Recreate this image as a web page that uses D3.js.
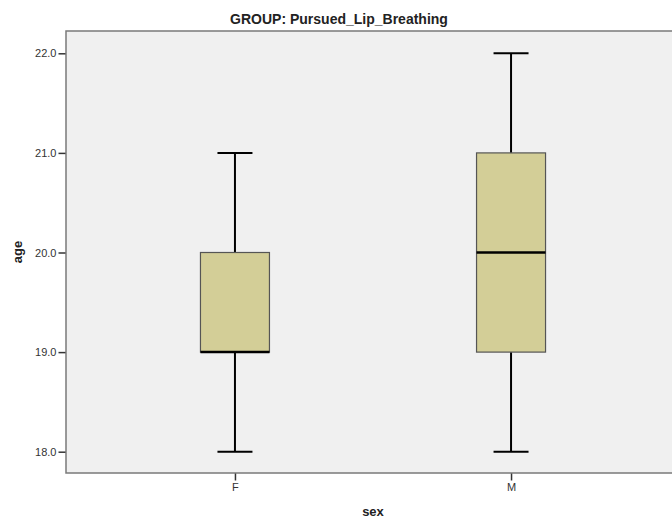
<!DOCTYPE html>
<html>
<head>
<meta charset="utf-8">
<script src="https://cdn.jsdelivr.net/npm/d3@7"></script>
<style>
  body { margin: 0; background: #fff; }
  svg { display: block; font-family: Arial, "Liberation Sans", sans-serif; }
</style>
</head>
<body>
<svg id="chart" width="672" height="522"></svg>
<script>
const categories = ["F", "M"];
const mins = [18, 18];
const q1s = [19, 19];
const medians = [19, 20];
const q3s = [20, 21];
const maxs = [21, 22];
const yTicks = [18, 19, 20, 21, 22];

const width = 672, height = 522;
const plot = { left: 66, right: 680, top: 31, bottom: 473 };

const svg = d3.select("#chart");

const xScale = d3.scalePoint()
  .domain(categories)
  .range([plot.left, plot.right])
  .padding(0.612);

const yScale = d3.scaleLinear()
  .domain([18, 22])
  .range([451.7, 53.3]);

const boxes = categories.map((c, i) => ({
  cat: c, min: mins[i], q1: q1s[i], med: medians[i], q3: q3s[i], max: maxs[i]
}));

// plot background
svg.append("rect")
  .attr("x", plot.left)
  .attr("y", plot.top)
  .attr("width", plot.right - plot.left)
  .attr("height", plot.bottom - plot.top)
  .attr("fill", "#f0f0f0")
  .attr("stroke", "#7a7a7a")
  .attr("stroke-width", 1.5);

const boxW = 69, capW = 35;

const g = svg.append("g").selectAll("g").data(boxes).join("g");

// whiskers
g.append("line")
  .attr("x1", (d) => xScale(d.cat)).attr("x2", (d) => xScale(d.cat))
  .attr("y1", (d) => yScale(d.max)).attr("y2", (d) => yScale(d.q3))
  .attr("stroke", "#000").attr("stroke-width", 2);
g.append("line")
  .attr("x1", (d) => xScale(d.cat)).attr("x2", (d) => xScale(d.cat))
  .attr("y1", (d) => yScale(d.q1)).attr("y2", (d) => yScale(d.min))
  .attr("stroke", "#000").attr("stroke-width", 2);
// caps
g.selectAll(".cap")
  .data((d) => [{ cat: d.cat, v: d.min }, { cat: d.cat, v: d.max }])
  .join("line")
  .attr("x1", (d) => xScale(d.cat) - capW / 2).attr("x2", (d) => xScale(d.cat) + capW / 2)
  .attr("y1", (d) => yScale(d.v)).attr("y2", (d) => yScale(d.v))
  .attr("stroke", "#000").attr("stroke-width", 2);

// box
g.append("rect")
  .attr("x", (d) => xScale(d.cat) - boxW / 2)
  .attr("y", (d) => yScale(d.q3))
  .attr("width", boxW)
  .attr("height", (d) => yScale(d.q1) - yScale(d.q3))
  .attr("fill", "#d3ce97")
  .attr("stroke", "#555")
  .attr("stroke-width", 1.2);

// median
g.append("line")
  .attr("x1", (d) => xScale(d.cat) - boxW / 2).attr("x2", (d) => xScale(d.cat) + boxW / 2)
  .attr("y1", (d) => yScale(d.med)).attr("y2", (d) => yScale(d.med))
  .attr("stroke", "#000").attr("stroke-width", 2.5);

// axes
const yAxis = (sel) =>
  sel.call(d3.axisLeft(yScale).tickValues(yTicks).tickFormat(d3.format(".1f")).tickSize(7).tickPadding(2))
    .call((s) => s.select(".domain").remove())
    .call((s) => s.selectAll("line").attr("stroke", "#333").attr("stroke-width", 1.5))
    .call((s) => s.selectAll("text").attr("fill", "#333").style("font-size", "11px"));

svg.append("g").attr("transform", `translate(${plot.left - 0.5},0)`).call(yAxis);

const xAxis = (sel) =>
  sel.call(d3.axisBottom(xScale).tickSize(7).tickPadding(3))
    .call((s) => s.select(".domain").remove())
    .call((s) => s.selectAll("line").attr("stroke", "#333").attr("stroke-width", 1.5))
    .call((s) => s.selectAll("text").attr("fill", "#333").style("font-size", "11px"));

svg.append("g").attr("transform", `translate(0,${plot.bottom + 0.5})`).call(xAxis);

// titles
svg.append("text")
  .attr("x", 339).attr("y", 24)
  .attr("text-anchor", "middle")
  .style("font-family", "'Liberation Sans Narrow', 'Arial Narrow', sans-serif")
  .style("font-weight", "bold").style("font-size", "14px")
  .attr("fill", "#222")
  .text("GROUP: Pursued_Lip_Breathing");

svg.append("text")
  .attr("x", (plot.left + plot.right) / 2).attr("y", 516)
  .attr("text-anchor", "middle")
  .style("font-weight", "bold").style("font-size", "13px")
  .attr("fill", "#222")
  .text("sex");

svg.append("text")
  .attr("transform", `translate(22,${(plot.top + plot.bottom) / 2}) rotate(-90)`)
  .attr("text-anchor", "middle")
  .style("font-weight", "bold").style("font-size", "13px")
  .attr("fill", "#222")
  .text("age");
</script>
</body>
</html>
